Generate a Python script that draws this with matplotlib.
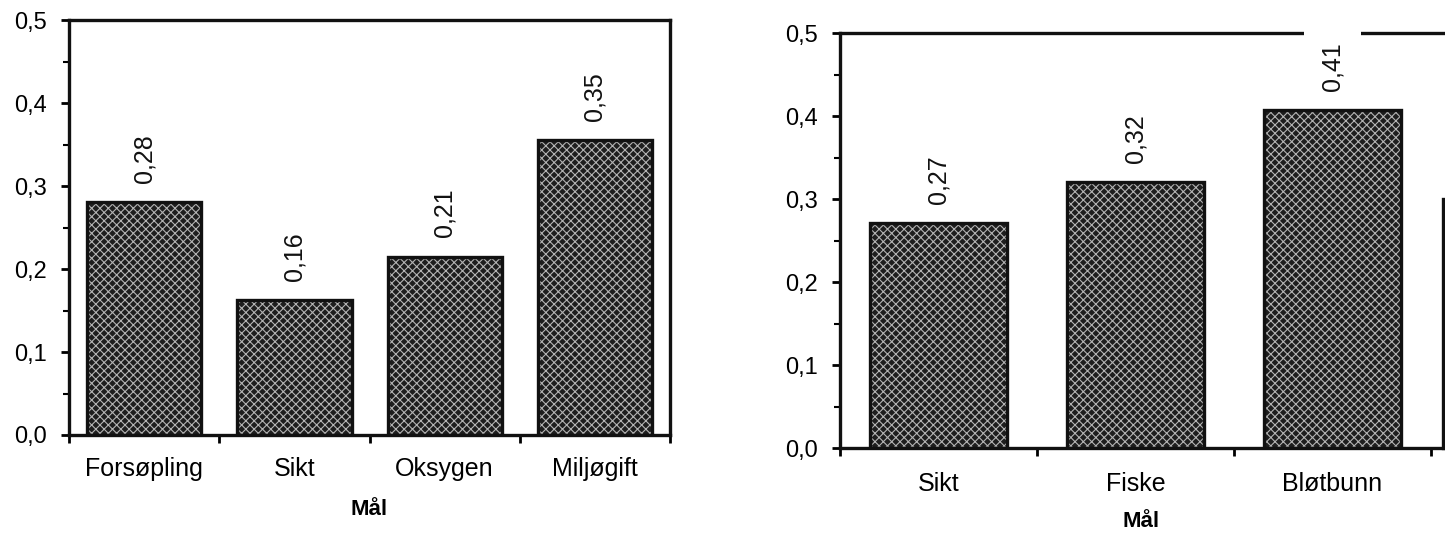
import numpy as np
import matplotlib
matplotlib.use('Agg')
from matplotlib import pyplot as plt
from matplotlib.ticker import MultipleLocator, FixedLocator, FuncFormatter

plt.rcParams['font.family'] = ['Liberation Sans', 'DejaVu Sans']
plt.rcParams['hatch.linewidth'] = 0.8

# left chart
left_names = ['Forsøpling', 'Sikt', 'Oksygen', 'Miljøgift']
left_values = [0.281, 0.163, 0.215, 0.355]
left_labels = ['0,28', '0,16', '0,21', '0,35']

# right chart
right_names = ['Sikt', 'Fiske', 'Bløtbunn']
right_values = [0.271, 0.32, 0.407]
right_labels = ['0,27', '0,32', '0,41']

y_ticks = [0.0, 0.1, 0.2, 0.3, 0.4, 0.5]
x_title = 'Mål'


def comma(v, pos):
    return ('%.1f' % v).replace('.', ',')


def draw_panel(ax, names, values, labels, width, xmax, cat_pad, title_pad):
    x = np.arange(len(names))
    # textured fill, then a solid black outline
    ax.bar(x, values, width, color='#1e1e1e', edgecolor='#b4b4b4',
           hatch='xxxx', linewidth=0, zorder=2)
    ax.bar(x, values, width, fill=False, edgecolor='#111111',
           linewidth=2.4, zorder=2.2)
    for xi, v, lab in zip(x, values, labels):
        # white box behind the value also breaks the top frame line, as in the scan
        ax.text(xi, v + 0.023, lab, rotation=90, ha='center', va='bottom',
                fontsize=18, color='#111111', zorder=4,
                bbox=dict(facecolor='white', edgecolor='none', pad=12))

    ax.set_xlim(-0.5, xmax)
    ax.set_ylim(0, 0.5)
    ax.yaxis.set_major_locator(FixedLocator(y_ticks))
    ax.yaxis.set_minor_locator(MultipleLocator(0.05))
    ax.yaxis.set_major_formatter(FuncFormatter(comma))
    ax.xaxis.set_major_locator(FixedLocator(np.arange(len(names) + 1) - 0.5))
    ax.xaxis.set_major_formatter(FuncFormatter(lambda v, p: ''))
    ax.xaxis.set_minor_locator(FixedLocator(x))
    ax.xaxis.set_minor_formatter(FuncFormatter(lambda v, p: names[int(round(v))]))
    ax.tick_params(axis='x', which='major', direction='out', length=6, width=2)
    ax.tick_params(axis='x', which='minor', length=0, pad=cat_pad, labelsize=18)
    ax.tick_params(axis='y', which='major', direction='out', length=6, width=2,
                   pad=10, labelsize=17)
    ax.tick_params(axis='y', which='minor', direction='out', length=4, width=1.5)
    for s in ax.spines.values():
        s.set_linewidth(2.4)
        s.set_color('#111111')
    ax.set_xlabel(x_title, fontsize=16, fontweight='bold', labelpad=title_pad)


fig = plt.figure(figsize=(14.45, 5.34), dpi=100)

ax1 = fig.add_axes([0.0478, 0.1854, 0.4159, 0.777])
draw_panel(ax1, left_names, left_values, left_labels, 0.76, 3.5, 16, 13)

ax2 = fig.add_axes([0.5813, 0.161, 0.4173, 0.777])
draw_panel(ax2, right_names, right_values, right_labels, 0.7, 2.561, 17, 11)
ax2.spines['right'].set_bounds(0, 0.3)

fig.savefig('out.png', dpi=100, facecolor='white')
